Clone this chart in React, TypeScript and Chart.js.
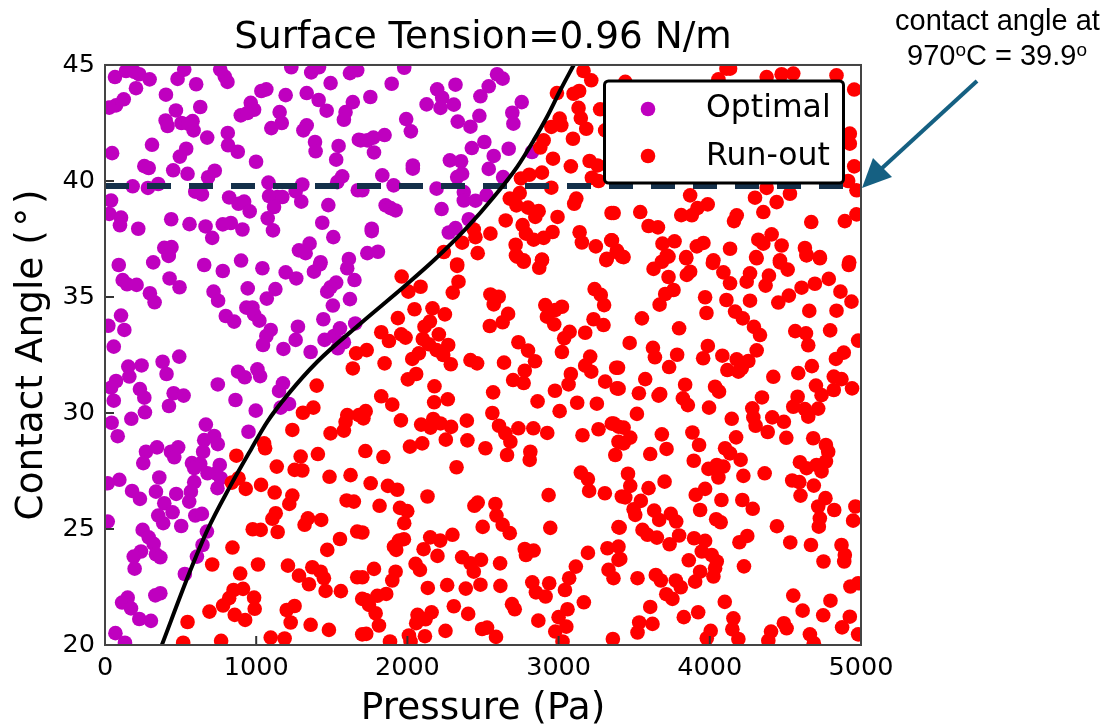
import React, { useEffect, useRef } from "react";
import { Chart, registerables } from "chart.js";

Chart.register(...registerables);

const chartTitle = "Surface Tension=0.96 N/m";
const xTitle = "Pressure (Pa)";
const yTitle = "Contact Angle (\u200a°\u200a)";
const xTicks = [0, 1000, 2000, 3000, 4000, 5000];
const yTicks = [20, 25, 30, 35, 40, 45];
const contactAngle = 39.78;

const optimalPoints = [
[66,44.48],[139,44.74],[194,44.7],[227,44.6],[295,44.38],[205,44],[403,43.72],[524,44.8],[480,44.4],[603,44.17],[762,44.8],[792,44.5],[810,44.27],[1232,44.9],[1364,44.68],[1415,44.9],[1492,44.22],[1620,44.65],[1668,44.77],[1034,43.88],[1067,43.95],[1195,43.7],[1334,43.79],[1413,43.49],[1466,43.03],[1639,43.4],[1591,42.97],[1580,42.64],[124,43.52],[73,43.26],[29,43.16],[469,43.04],[630,43.19],[964,43.37],[986,43.07],[898,42.83],[942,42.93],[1155,42.97],[1169,42.5],[1100,42.28],[401,42.61],[414,42.37],[506,42.5],[579,42.58],[586,42.18],[550,42.47],[1334,42.4],[1312,42.18],[676,41.87],[812,42.07],[814,41.54],[878,41.26],[1389,41.68],[1393,41.28],[1545,41.51],[1529,40.92],[1679,41.78],[311,41.56],[47,41.2],[537,41.39],[495,41.05],[999,40.83],[260,40.64],[289,40.56],[451,40.46],[546,40.31],[726,40.44],[682,40.16],[1569,40.2],[1536,39.95],[183,39.77],[284,39.7],[352,39.87],[1081,39.93],[1305,39.85],[597,39.54],[641,39.42],[821,39.29],[883,39.02],[920,39.11],[957,38.69],[1085,39.35],[1140,39.31],[1173,39.31],[1261,39.55],[1298,39.11],[1118,38.88],[1477,38.96],[1672,39.6],[40,39.16],[29,38.58],[106,38.42],[99,38.09],[220,37.94],[438,38.35],[559,38.14],[665,38.04],[779,38.13],[832,38.19],[909,37.91],[1076,38.39],[1111,37.87],[1437,38.2],[1510,37.58],[709,37.55],[392,37.12],[440,37.15],[421,36.79],[1283,37.01],[1353,37.3],[1327,36.89],[1426,36.5],
[1979,44.88],[1896,44.19],[1755,43.62],[2197,43.95],[2318,44.15],[2593,44.6],[2630,44.41],[2538,44.08],[2483,43.65],[2230,43.59],[2127,43.3],[2219,43.15],[2307,43.29],[2756,43.4],[1992,42.67],[2023,42.14],[2476,42.81],[2333,42.56],[2417,42.34],[2694,42.94],[2701,42.47],[1691,41.75],[1735,41.75],[1775,41.87],[1849,41.98],[1779,41.23],[2509,41.68],[2426,41.42],[2571,41.08],[2670,41.39],[2824,41.25],[2036,40.67],[2036,40.53],[2281,40.89],[2355,40.85],[2538,40.52],[2362,40.31],[2329,40.17],[1834,40.24],[1909,39.81],[2193,39.67],[2633,40.17],[1702,39.6],[2373,39.52],[2373,39.16],[2450,39.15],[2523,39.39],[1856,38.95],[1889,38.83],[1922,38.73],[2226,38.79],[2406,38.35],[1764,37.94],[1764,37.84],[2318,37.97],[2274,37.78],[1735,36.89],[1805,36.95],
[91,36.38],[319,36.49],[421,36.77],[656,36.38],[900,36.57],[779,36.12],[1041,36.24],[1195,36.06],[1265,35.8],[1382,36.09],[1422,36.41],[1613,36.64],[1602,36.24],[1650,35.73],[117,35.73],[146,35.55],[209,35.52],[427,35.8],[493,35.42],[297,35.16],[328,34.77],[718,35.23],[748,34.84],[944,35.37],[1127,35.34],[1070,34.93],[1529,35.62],[1492,35.42],[1470,35.23],[1620,34.91],[1507,34.63],[935,34.54],[975,34.55],[986,34.25],[1021,33.98],[799,34.18],[854,33.94],[1444,34.04],[106,34.2],[22,33.76],[128,33.58],[58,32.86],[1096,33.58],[1067,33.32],[1045,32.93],[1276,33.72],[1261,33.15],[1180,32.76],[1360,32.63],[1452,33.15],[1514,33.32],[1554,33.65],[1655,33.86],[1580,33.05],[1540,32.79],[491,32.43],[381,32.21],[407,31.68],[242,32.05],[154,32],[161,31.57],[73,31.38],[40,31.09],[231,31.03],[260,30.66],[58,30.53],[454,30.85],[520,30.75],[423,30.3],[264,30.03],[174,29.75],[44,29.58],[84,29],[746,31.23],[880,31.78],[924,31.54],[1008,31.88],[1026,31.59],[863,30.56],[997,30.1],[1177,31.28],[1151,30.95],[1217,30.39],[1162,30.23],[667,29.5],[949,29.19],[722,29.01],[656,28.83],[746,28.66],[649,28.33],[271,28.33],[344,28.52],[436,28.33],[484,28.52],
[253,27.84],[458,28.09],[575,27.84],[630,27.81],[759,27.76],[590,27.62],[95,27.12],[18,26.97],[359,27.22],[678,27.4],[733,27.4],[766,27.19],[744,26.76],[590,27.02],[568,26.61],[557,26.18],[179,26.64],[231,26.3],[337,26.61],[471,26.51],[392,26.11],[447,25.72],[352,25.58],[385,25.25],[504,25.13],[597,25.58],[641,25.65],[18,25.32],[249,24.96],[289,24.64],[322,24.36],[238,24.03],[190,23.81],[196,23.29],[337,23.91],[366,23.78],[674,24.89],[645,24.31],[608,23.81],[528,23.06],[366,22.23],[333,22.14],[150,22.04],[113,21.83],[172,21.58],[227,21.12],[304,21.04],[69,20.51],[132,20.1],
];

const runOutPoints = [
[3165,44.74],[3216,44.34],[2989,43.79],[3099,43.76],[3136,43.88],[3132,43.15],[3147,42.71],[3183,42.25],[3275,43.09],[3308,42.18],[3007,42.69],[3018,42.4],[2952,42.33],[3095,41.82],[2901,41.75],[2879,41.44],[2963,40.96],[3081,40.63],[3205,40.86],[3258,40.67],[3220,40.14],[3264,40],[2890,40.36],[2806,40.27],[2751,40.11],[2952,39.71],[2743,39.48],[2677,39.24],[2721,38.95],[2798,38.85],[2868,38.7],[2846,38.45],[2993,38.45],[3117,39.24],[3103,39.02],[3350,38.62],[2650,38.3],[2762,38.1],[2784,37.73],[2835,37.47],[2901,37.55],[2960,37.8],[3139,37.79],[3154,37.35],[3246,37.18],[3348,37.44],[3385,36.94],[3319,36.65],[2439,37.91],[2450,37.58],[2549,37.73],[2362,37.34],[2465,36.89],[2241,36.94],[2716,37.25],[2718,36.79],[2769,36.58],[2890,36.61],[2329,36.4],
[4134,44.84],[4110,44.84],[4057,44.38],[4376,44.48],[4475,44.6],[4552,44.63],[4838,44.55],[4955,43.94],[3441,44.27],[4926,42.04],[4926,41.61],[4955,40.63],[4915,40],[4970,39.6],[3870,39.38],[4299,39.28],[4530,39.45],[4376,39.7],[4442,39.09],[3986,38.99],[3918,38.83],[3881,38.52],[3811,38.53],[3540,38.66],[3364,38.62],[4354,38.66],[4178,38.52],[4160,38.27],[4671,38.23],[4893,38.27],[4970,38.56],[3595,38.06],[3657,38],[3353,37.44],[3386,37],[3430,36.72],[3687,37.3],[3767,37.4],[3716,36.79],[3844,36.72],[3914,37.18],[3958,37.33],[4134,37.08],[4321,37.47],[4354,37.3],[4409,37.7],[4475,37.22],[4629,37.11],[4640,36.79],[4728,36.72],[4306,36.72],[4464,36.58],[4024,36.58],[4922,36.5],
[1661,32.57],[1639,31.92],[1400,31.18],[1378,30.23],[1309,30.01],[1239,29.27],[1602,29.91],[1591,29.62],[1580,29.24],[1492,29.12],[1679,29.91],[1052,28.69],[1059,28.48],[869,28.16],[1294,28.12],[1408,28.23],
[2329,36.34],[2338,35.66],[2300,35.19],[1962,35.88],[2087,35.44],[2006,35.23],[2047,34.47],[1937,34.09],[2166,34.51],[2248,34.25],[2149,33.94],[2113,33.72],[2208,33.39],[1827,33.48],[1878,33.1],[1959,33.39],[1988,33.25],[2102,33.19],[2142,32.96],[2193,32.71],[2270,32.93],[2237,32.5],[1731,32.71],[2076,32.57],[2032,32.33],[1849,32.14],[2287,32.1],[2417,32.28],[2461,32.14],[2058,31.68],[2003,31.45],[2179,31.15],[1827,30.72],[1900,30.36],[2267,30.59],[2177,30.46],[1724,30.08],[1709,29.77],[1957,29.68],[2091,29.5],[2171,29.74],[2153,29.37],[2219,29.55],[2289,29.4],[2393,29.67],[2254,28.85],[2397,28.82],[2098,28.69],[2017,28.55],[1722,28.36],[2516,28.48],[1841,28.1],
[2725,36.74],[2769,36.52],[2890,36.59],[2872,36.26],[3315,36.59],[2549,35.11],[2604,35.01],[2571,34.68],[2666,34.27],[2630,33.91],[2545,33.75],[2912,34.65],[3022,34.58],[2978,34.44],[2923,34.15],[2971,33.82],[3238,35.34],[3279,35.09],[3301,34.65],[3231,34.04],[3297,33.79],[3176,33.46],[3073,33.5],[3037,33.22],[3022,32.63],[2734,33.05],[2798,32.69],[2844,32.23],[2639,32.17],[3209,32.43],[3176,32.04],[3216,31.78],[3381,31.95],[3081,31.68],[3066,31.23],[2776,31.82],[2699,31.42],[2769,31.29],[3308,31.35],[3385,31.06],[2976,30.96],[2567,30.89],[2861,30.5],[3123,30.44],[3253,30.4],[3007,30.08],[2562,30],[2606,29.45],[2648,29.12],[2681,28.76],[2734,29.34],[2833,29.34],[2925,29.14],[3158,29.04],[3264,29.3],[3352,29.54],[2659,28.19],[2813,28.33],[3396,29.41],[3396,28.76],
[3419,36.74],[3628,36.21],[3683,36.52],[3727,36.74],[3844,36.67],[3870,36.09],[3848,35.95],[3727,35.86],[3760,35.3],[3705,35.13],[3668,34.67],[4020,36.47],[4090,36.06],[4134,35.59],[3969,34.99],[3978,34.31],[4110,34.87],[4266,36.02],[4244,35.66],[4266,34.84],[4310,36.67],[4391,35.92],[4369,35.49],[4464,36.49],[4515,36.18],[4640,36.81],[4728,36.67],[4919,36.38],[4787,35.78],[4695,35.57],[4607,35.4],[4523,35.06],[4453,34.76],[4864,35.23],[4937,34.8],[4658,34.4],[4838,34.41],[4167,34.37],[4218,34.08],[4292,33.71],[4332,33.36],[3551,34.08],[3797,33.65],[4565,33.53],[4636,33.43],[4651,32.92],[4796,33.56],[4981,33.12],[3470,33.02],[3624,32.81],[3637,32.4],[3784,32.51],[3731,31.98],[3393,31.95],[3987,32.89],[3956,32.36],[4083,32.47],[4310,32.7],[4178,32.31],[4255,32.24],[4211,31.92],[4116,31.85],[4189,31.78],[4886,32.6],[4834,32.33],[4675,32.02],[4585,31.72],[4420,31.56],[3573,31.46],[3397,31.05],[3531,30.85],[3672,30.82],[3661,30.75],[3837,31.22],[4035,31.13],[4061,30.92],[3822,30.63],[3855,30.34],[3995,30.23],[3518,29.96],[4345,30.67],[4281,30.2],[4288,29.81],[4145,29.75],[4303,29.45],[4383,29.18],[4413,29.81],[4490,29.62],[4506,28.93],[4174,28.95],[4702,31.18],[4820,31.57],[4871,31.46],[4941,31.06],[4820,30.99],[4739,30.77],[4581,30.7],[4552,30.27],[4629,30.17],[4717,30.19],[4651,29.84],[4684,28.91],[4768,28.62],[3364,29.55],[3430,29.37],[3683,29.08],[3885,29.16],[3929,28.62],[3474,28.94],[3430,28.69],[3714,28.45],[3606,28.23],[4101,28.48],[4783,28.33],[4134,28.26],[3375,28.19],
[1136,27.69],[1254,27.55],[1305,27.52],[1485,27.25],[1624,27.32],[839,27],[883,27.19],[931,26.73],[1032,26.9],[1122,26.57],[1239,26.44],[1219,26.08],[1598,26.23],[1646,26.18],[1129,25.68],[1107,25.44],[1342,25.46],[1320,25.18],[1430,25.39],[977,24.99],[1030,24.96],[1142,24.87],[1668,24.89],[1554,24.57],[1470,24.1],[843,24.2],[709,23.47],[1012,23.47],[1210,23.42],[894,23.08],[1283,22.99],[1371,23.35],[1426,23.16],[1448,22.88],[1349,22.62],[1459,22.33],[1560,22.32],[1668,22.92],[1701,21.99],[850,22.37],[913,22.42],[821,22.02],[781,21.7],[986,22.04],[990,21.56],[858,21.3],[927,21.08],[691,21.44],[546,20.99],[1202,21.51],[1254,21.68],[1228,20.97],[1360,20.87],[1481,20.65],[517,20.1],[768,20.18],[1096,20.32],[1188,20.28],[1701,20.46],
[2809,27.98],[2325,27.66],[1757,26.97],[1871,26.86],[1933,26.69],[2133,26.4],[1816,26],[1951,25.91],[1999,25.77],[1979,25.25],[1702,24.85],[2465,26.14],[2443,26],[2582,26.08],[2589,25.58],[2630,25.18],[2677,24.82],[2498,25.09],[2945,25.05],[2934,26.46],[3147,27.43],[3194,27.15],[3202,26.64],[3306,26.54],[3418,26.4],[3396,25.08],[1977,24.56],[1944,24.5],[1911,24.24],[1926,24.1],[2151,24.64],[2217,24.5],[2298,24.75],[2107,24.13],[2199,23.84],[2362,23.78],[2487,23.67],[2417,23.52],[2439,23.16],[2613,23.52],[2776,24.14],[2784,23.88],[2835,24.07],[3194,23.97],[3323,24.17],[3396,24.24],[3396,23.67],[2054,23.5],[2083,23.24],[1779,23.28],[1922,23.16],[1900,22.78],[1702,22.92],[2135,22.46],[2263,22.58],[2386,22.43],[2483,22.6],[2615,22.55],[2826,22.7],[2938,22.66],[2850,22.27],[2914,22.09],[3042,22.37],[3070,22.88],[3114,23.38],[3330,23.24],[3363,22.88],[1724,21.94],[1746,21.73],[1801,22.12],[1860,22.2],[1790,21.37],[1812,20.84],[1728,20.48],[2692,21.76],[2710,21.54],[3167,21.84],[2307,21.67],[2402,21.34],[2067,21.3],[2160,21.41],[2120,21.11],[2058,20.94],[2866,21.05],[3059,21.54],[3000,21.2],[3051,20.79],[2978,20.58],[3026,20.15],[2252,20.61],[2494,20.69],[2527,20.75],[2586,20.35],[2116,20.38],[2010,20.41],[2021,20.15],[1885,20.15],[3359,20.26],
[3894,27.94],[3991,27.59],[4046,27.76],[4090,27.69],[4057,27.22],[4204,27.98],[4222,27.29],[4363,27.4],[4596,27.88],[4640,27.62],[4706,27.76],[4768,27.91],[4739,27.48],[3459,27.38],[3474,26.86],[3441,26.36],[3595,26.76],[3701,27.04],[3544,26.21],[3496,25.85],[3507,25.61],[3969,26.73],[3907,26.47],[4077,26.25],[4215,26.25],[4284,25.87],[3936,25.82],[4545,27.09],[4592,27.02],[4688,26.87],[4600,26.44],[4765,26.33],[4717,25.97],[4823,25.82],[4963,25.97],[4728,25.46],[4721,25.1],[4948,25.36],[3632,25.79],[3665,25.39],[3742,25.65],[3778,25.32],[4042,25.42],[4072,25.29],[4444,25.12],[3404,25.06],[3555,24.96],[3588,24.75],[3650,24.63],[3797,24.72],[3734,24.34],[3896,24.6],[3969,24.49],[4248,24.7],[4196,24.43],[4532,24.42],[4669,24.31],[4871,24.31],[4893,23.88],[4889,23.6],[4752,23.6],[3408,23.71],[3947,24.03],[4013,23.88],[4046,23.6],[3861,23.65],[4035,23.31],[3936,23.16],[4024,22.95],[4226,23.39],[3903,22.73],[3643,23.02],[3676,22.78],[3775,22.78],[3808,22.49],[3712,22.19],[3753,21.99],[3522,22.88],[3606,21.64],[4099,21.86],[3923,21.41],[3828,21.2],[3621,20.91],[3533,20.97],[3522,20.54],[4006,20.61],[3980,20.29],[4156,21.15],[4149,20.68],[4189,20.26],[4930,22.52],[4981,22.66],[4552,22.13],[4614,21.48],[4798,21.91],[4750,21.28],[4926,21.22],[4875,20.76],[4981,20.46],[4490,20.94],[4508,20.72],[4405,20.58],[4387,20.19],[4662,20.46],[4688,20.08],
];

const boundaryPressure = [376, 557, 678, 821, 964, 1074, 1206, 1404, 1690, 1977, 2175, 2395, 2571, 2725, 2835, 2923, 3011, 3100];
const boundaryAngle = [20, 23.09, 24.96, 26.76, 28.41, 29.63, 30.77, 32.21, 33.86, 35.44, 36.58, 38, 39.31, 40.6, 41.75, 42.76, 43.91, 45];

const PURPLE = "#bf00bf";
const RED = "#ff0000";
const SANS = "'DejaVu Sans'";
const ARIAL = "'Liberation Sans'";

const toXY = (pts: number[][]) => pts.map(([x, y]) => ({ x, y }));

const overlay = {
  id: "overlay",
  afterDraw(chart: any) {
    const { ctx, chartArea: a, scales } = chart;
    ctx.save();
    // inward ticks
    ctx.strokeStyle = "#333";
    ctx.lineWidth = 2;
    xTicks.forEach((t) => {
      const p = scales.x.getPixelForValue(t);
      ctx.beginPath();
      ctx.moveTo(p, a.bottom);
      ctx.lineTo(p, a.bottom - 9);
      ctx.stroke();
    });
    yTicks.forEach((t) => {
      const p = scales.y.getPixelForValue(t);
      ctx.beginPath();
      ctx.moveTo(a.left, p);
      ctx.lineTo(a.left + 9, p);
      ctx.stroke();
    });
    // frame
    ctx.strokeStyle = "#444";
    ctx.lineWidth = 2;
    ctx.strokeRect(a.left, a.top, a.right - a.left, a.bottom - a.top);

    // legend
    ctx.beginPath();
    ctx.roundRect(604.5, 81, 239, 102, 4);
    ctx.fillStyle = "#fff";
    ctx.fill();
    ctx.strokeStyle = "#000";
    ctx.lineWidth = 3;
    ctx.stroke();
    ctx.fillStyle = PURPLE;
    ctx.beginPath();
    ctx.arc(648, 109, 7.3, 0, Math.PI * 2);
    ctx.fill();
    ctx.fillStyle = RED;
    ctx.beginPath();
    ctx.arc(648, 156, 7.3, 0, Math.PI * 2);
    ctx.fill();
    ctx.fillStyle = "#000";
    ctx.font = `31.5px ${SANS}`;
    ctx.textAlign = "left";
    ctx.textBaseline = "alphabetic";
    ctx.fillText("Optimal", 706, 117);
    ctx.fillText("Run-out", 706, 165);

    // annotation text
    ctx.font = `29px ${ARIAL}`;
    ctx.textAlign = "center";
    ctx.fillText("contact angle at", 997.5, 30);
    ctx.textAlign = "left";
    const sup = `19px ${ARIAL}`;
    const reg = `29px ${ARIAL}`;
    let cx = 907;
    const parts: [string, boolean][] = [["970", false], ["o", true], ["C = 39.9", false], ["o", true]];
    parts.forEach(([s, isSup]) => {
      ctx.font = isSup ? sup : reg;
      ctx.fillText(s, cx, isSup ? 56 : 65);
      cx += ctx.measureText(s).width;
    });

    // arrow
    ctx.strokeStyle = "#156082";
    ctx.fillStyle = "#156082";
    ctx.lineWidth = 4;
    ctx.beginPath();
    ctx.moveTo(977, 81);
    ctx.lineTo(880, 170);
    ctx.stroke();
    ctx.beginPath();
    ctx.moveTo(862, 188);
    ctx.lineTo(873, 158);
    ctx.lineTo(892, 177);
    ctx.closePath();
    ctx.fill();
    ctx.restore();
  },
};

export default function App() {
  const ref = useRef<HTMLCanvasElement>(null);
  useEffect(() => {
    document.body.style.margin = "0";
    const chart = new Chart(ref.current as HTMLCanvasElement, {
      type: "scatter",
      data: {
        datasets: [
          {
            label: "Boundary",
            type: "line",
            data: boundaryPressure.map((x, i) => ({ x, y: boundaryAngle[i] })),
            borderColor: "#000",
            borderWidth: 4,
            pointRadius: 0,
            cubicInterpolationMode: "monotone",
            order: 0,
            clip: 0,
          },
          {
            label: "Contact angle",
            type: "line",
            data: [{ x: 0, y: contactAngle }, { x: 5000, y: contactAngle }],
            borderColor: "#14304a",
            borderWidth: 6,
            borderDash: [24, 18],
            pointRadius: 0,
            order: 1,
            clip: 0,
          },
          {
            label: "Run-out",
            data: toXY(runOutPoints),
            backgroundColor: RED,
            borderWidth: 0,
            pointRadius: 7.3,
            order: 2,
            clip: 0,
          },
          {
            label: "Optimal",
            data: toXY(optimalPoints),
            backgroundColor: PURPLE,
            borderWidth: 0,
            pointRadius: 7.3,
            order: 3,
            clip: 0,
          },
        ],
      } as any,
      options: {
        animation: false,
        responsive: false,
        layout: { padding: { left: 0, right: 244, top: 0, bottom: 0 } },
        plugins: {
          legend: { display: false },
          tooltip: { enabled: false },
          title: {
            display: true,
            text: chartTitle,
            fullSize: false,
            color: "#000",
            font: { family: SANS, size: 37.4, weight: "normal" },
            padding: { top: 15.5, bottom: 4.6 },
          },
        },
        scales: {
          x: {
            type: "linear",
            min: 0,
            max: 5000,
            afterFit: (s: any) => { s.height = 80; },
            afterBuildTicks: (s: any) => { s.ticks = xTicks.map((value) => ({ value })); },
            grid: { display: false },
            border: { display: false },
            ticks: { color: "#000", font: { family: SANS, size: 25.5 }, padding: 0, maxRotation: 0, autoSkip: false, callback: (v: any) => String(v) },
            title: { display: true, text: xTitle, color: "#000", font: { family: SANS, size: 37.4, lineHeight: 1 }, padding: { top: 0, bottom: -3 } },
          },
          y: {
            type: "linear",
            min: 20,
            max: 45,
            afterFit: (s: any) => { s.width = 105; },
            afterBuildTicks: (s: any) => { s.ticks = yTicks.map((value) => ({ value })); },
            grid: { display: false },
            border: { display: false },
            ticks: { color: "#000", font: { family: SANS, size: 25.5 }, padding: 2, autoSkip: false, callback: (v: any) => String(v) },
            title: { display: true, text: yTitle, color: "#000", font: { family: SANS, size: 37.4, lineHeight: 1 }, padding: { top: 14, bottom: 0 } },
          },
        },
      },
      plugins: [overlay],
    } as any);
    return () => chart.destroy();
  }, []);
  return (
    <div style={{ position: "absolute", left: 0, top: 0, width: 1105, height: 725, background: "#fff" }}>
      <canvas ref={ref} width={1105} height={725} style={{ display: "block" }} />
    </div>
  );
}
